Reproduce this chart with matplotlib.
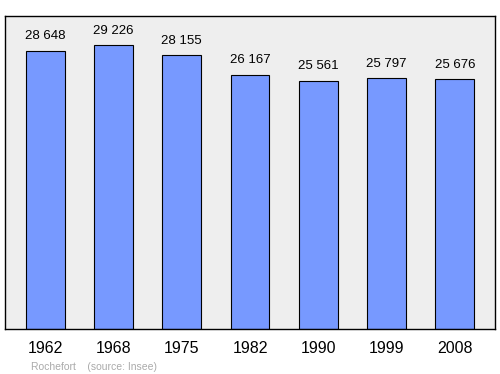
import matplotlib
matplotlib.use("Agg")
import matplotlib.pyplot as plt

years = ["1962", "1968", "1975", "1982", "1990", "1999", "2008"]
population = [28648, 29226, 28155, 26167, 25561, 25797, 25676]
labels = ["28 648", "29 226", "28 155", "26 167", "25 561", "25 797", "25 676"]

plt.rcParams['font.family'] = ['Liberation Sans', 'DejaVu Sans']

fig = plt.figure(figsize=(5.0, 3.74), dpi=100)
ax = fig.add_axes([0.01, 0.1203, 0.98, 0.837])
ax.set_facecolor('#eeeeee')

x = range(len(years))
ax.bar(x, population, width=0.57, color='#7799ff', edgecolor='black', linewidth=0.8, zorder=2)
for xi, v, lab in zip(x, population, labels):
    ax.annotate(lab, (xi, v), xytext=(0, 6), textcoords='offset points',
                ha='center', va='bottom', fontsize=9.5)

ax.set_xlim(-0.586, 6.586)
ax.set_ylim(0, 32200)
ax.set_yticks([])
ax.set_xticks(list(x))
ax.set_xticklabels(years, fontsize=11.5)
ax.tick_params(axis='x', length=0, pad=8.5)
for s in ax.spines.values():
    s.set_linewidth(1.0)

fig.text(0.062, 0.012, "Rochefort    (source: Insee)", fontsize=7.5, color='#aaaaaa')

fig.savefig("out.png", dpi=100)
